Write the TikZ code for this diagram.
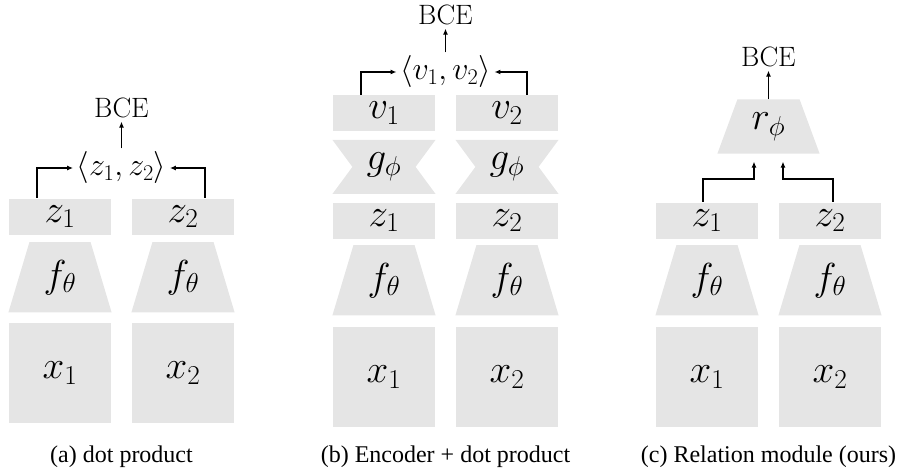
\documentclass[tikz,border=0pt]{standalone}
\usepackage{fix-cm}
\usepackage{fontspec}
\newfontfamily\capfont{Liberation Serif}
\usetikzlibrary{positioning,calc,arrows.meta,backgrounds}

\begin{document}
\begin{tikzpicture}[
        x=1pt, y=-1pt,
        >={Latex[length=6pt,width=5pt]}, line width=1.2pt,
        block/.style={fill=black!10, minimum width=102pt, inner sep=0pt, font=\fontsize{39}{39}\selectfont},
        emb/.style={block, minimum height=36pt},
        img/.style={block, minimum height=100pt},
        enc/.style={block, fill=none, minimum height=69pt},
        proj/.style={block, fill=none, minimum height=53pt},
        rel/.style={block, fill=none, minimum width=101pt, minimum height=53pt},
        lbl/.style={font=\fontsize{32}{32}\selectfont, inner sep=3pt},
        loss/.style={font=\fontsize{28}{28}\selectfont, inner sep=3pt},
        subcap/.style={font=\capfont\fontsize{24}{24}\selectfont}
      ]
      \useasboundingbox (0,0) rectangle (897,473);

      % (a) dot product
      \node (ax1) at (60, 373) [img] {$x_1$};
      \node (ax2) at (183, 373) [img] {$x_2$};
      \node (af1) [node distance=10pt, above=of ax1, enc] {$f_\theta$};
      \node (af2) [node distance=10pt, above=of ax2, enc] {$f_\theta$};
      \node (az1) [node distance=7pt, above=of af1, emb] {$z_1$};
      \node (az2) [node distance=7pt, above=of af2, emb] {$z_2$};
      \node (adot) at (121.5, 168) [lbl] {$\langle z_1, z_2\rangle$};
      \node (abce) at (121.5, 108) [loss] {BCE};
      \node (acap) at (121.5, 457) [subcap] {(a) dot product};

      \draw[->] ([xshift=-23pt]az1.north) |- (adot.west);
      \draw[->] ([xshift=22pt]az2.north) |- (adot.east);
      \draw[->] (adot) -- (abce);

      % (b) encoder + dot product
      \node (bx1) at (384, 377) [img] {$x_1$};
      \node (bx2) at (507, 377) [img] {$x_2$};
      \node (bf1) [node distance=11pt, above=of bx1, enc] {$f_\theta$};
      \node (bf2) [node distance=11pt, above=of bx2, enc] {$f_\theta$};
      \node (bz1) [node distance=6pt, above=of bf1, emb] {$z_1$};
      \node (bz2) [node distance=6pt, above=of bf2, emb] {$z_2$};
      \node (bg1) [node distance=8pt, above=of bz1, proj] {$g_\phi$};
      \node (bg2) [node distance=8pt, above=of bz2, proj] {$g_\phi$};
      \node (bv1) [node distance=8pt, above=of bg1, emb] {$v_1$};
      \node (bv2) [node distance=8pt, above=of bg2, emb] {$v_2$};
      \node (bdot) at (445.5, 72) [lbl] {$\langle v_1, v_2\rangle$};
      \node (bbce) at (445.5, 15) [loss] {BCE};
      \node (bcap) at (445.5, 457) [subcap] {(b) Encoder + dot product};

      \draw[->] ([xshift=-23pt]bv1.north) |- (bdot.west);
      \draw[->] ([xshift=20pt]bv2.north) |- (bdot.east);
      \draw[->] (bdot) -- (bbce);

      % (c) relation module
      \node (cx1) at (707, 377) [img] {$x_1$};
      \node (cx2) at (830, 377) [img] {$x_2$};
      \node (cf1) [node distance=11pt, above=of cx1, enc] {$f_\theta$};
      \node (cf2) [node distance=11pt, above=of cx2, enc] {$f_\theta$};
      \node (cz1) [node distance=6pt, above=of cf1, emb] {$z_1$};
      \node (cz2) [node distance=6pt, above=of cf2, emb] {$z_2$};
      \node (crel) at (768.5, 126.5) [rel] {$r_\phi$};
      \node (cbce) at (768.5, 57) [loss] {BCE};
      \node (ccap) at (768.5, 457) [subcap] {(c) Relation module (ours)};

      \draw[->] ([xshift=-4pt]cz1.north) -- ++(0,-23) -| ([xshift=-14.5pt, yshift=-8pt]crel.south);
      \draw[->] ([xshift=3pt]cz2.north) -- ++(0,-23) -| ([xshift=14.5pt, yshift=-8pt]crel.south);
      \draw[->] (crel) -- (cbce);

      % grey shapes behind the labels
      \begin{scope}[on background layer]
        \foreach \f in {af1, af2, bf1, bf2, cf1, cf2}
          \fill[black!10] ($(\f.north west)+(21,0)$) -- ($(\f.north east)+(-21,0)$)
            -- (\f.south east) -- (\f.south west) -- cycle;
        \fill[black!10] ($(crel.north west)+(20,0)$) -- ($(crel.north east)+(-20,0)$)
          -- (crel.south east) -- (crel.south west) -- cycle;
        \foreach \g in {bg1, bg2}
          \fill[black!10] (\g.north west) -- (\g.north east) -- ($(\g.east)+(-20,0)$)
            -- (\g.south east) -- (\g.south west) -- ($(\g.west)+(20,0)$) -- cycle;
      \end{scope}
    \end{tikzpicture}
\end{document}
